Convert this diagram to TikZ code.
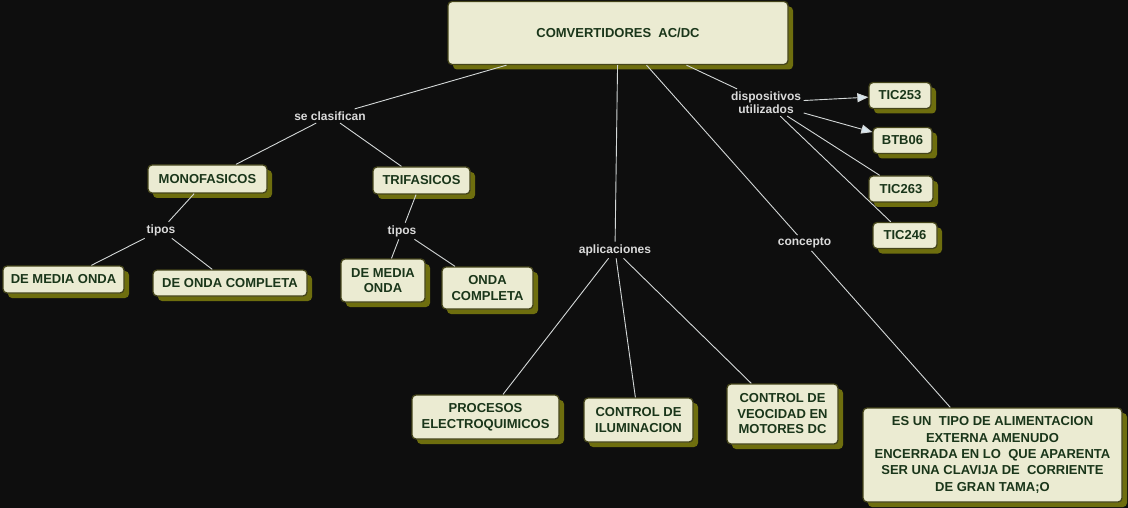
\documentclass[tikz,border=0pt]{standalone}
\usepackage{fontspec}
\setmainfont{Liberation Sans}
\usetikzlibrary{shadows,arrows.meta}
\definecolor{bgcol}{HTML}{0E0E0E}
\definecolor{boxfill}{HTML}{EBEBD2}
\definecolor{boxline}{HTML}{44441A}
\definecolor{shadowcol}{HTML}{6E6E0E}
\definecolor{boxtext}{HTML}{1A361A}
\definecolor{labtext}{HTML}{DADADA}
\definecolor{linkcol}{HTML}{D4D8D8}
\definecolor{headcol}{HTML}{D8E6EE}
\tikzset{
  box/.style={draw=boxline, line width=1.3pt, fill=boxfill, rounded corners=4pt,
    text=boxtext, font=\fontsize{13}{15.5}\selectfont\bfseries, align=center,
    inner sep=2pt,
    drop shadow={shadow xshift=5pt, shadow yshift=-5pt, fill=shadowcol, opacity=1}},
  lab/.style={text=labtext, font=\fontsize{12}{13}\selectfont\bfseries, align=center, inner sep=2.5pt},
  link/.style={draw=linkcol, line width=0.9pt},
  arrowlink/.style={link, -{Triangle[length=11pt,width=9pt,fill=headcol]}}
}
\begin{document}
\begin{tikzpicture}[x=1pt,y=-1pt]
\fill[bgcol] (0,0) rectangle (1128,508);
\useasboundingbox (0,0) rectangle (1128,508);
% boxes
\node[box, minimum width=340pt, minimum height=63pt] (top) at (618,33) {COMVERTIDORES\ \ AC/DC};
\node[box, minimum width=119pt, minimum height=28pt] (mono) at (207.5,179) {MONOFASICOS};
\node[box, minimum width=97pt, minimum height=27pt] (tri) at (421.5,180.5) {TRIFASICOS};
\node[box, minimum width=121pt, minimum height=27pt] (dmo1) at (63.5,279.5) {DE MEDIA ONDA};
\node[box, minimum width=154pt, minimum height=26pt] (doc) at (230,283) {DE ONDA COMPLETA};
\node[box, minimum width=84pt, minimum height=43pt] (dmo2) at (383,280.5) {DE MEDIA\\ONDA};
\node[box, minimum width=91pt, minimum height=42pt] (oc) at (487.5,288) {ONDA\\COMPLETA};
\node[box, minimum width=147pt, minimum height=44pt] (proc) at (485.5,417) {PROCESOS\\ELECTROQUIMICOS};
\node[box, minimum width=109pt, minimum height=44pt] (ilum) at (638.5,420) {CONTROL DE\\ILUMINACION};
\node[box, minimum width=111pt, minimum height=60pt] (veo) at (782.5,414) {CONTROL DE\\VEOCIDAD EN\\MOTORES DC};
\node[box, minimum width=259pt, minimum height=94pt, font=\fontsize{13}{16.3}\selectfont\bfseries] (esun) at (992.5,455)
  {ES UN\ \ TIPO DE ALIMENTACION\\EXTERNA AMENUDO\\ENCERRADA EN LO\ \ QUE APARENTA\\SER UNA CLAVIJA DE\ \ CORRIENTE\\DE GRAN TAMA;O};
\node[box, minimum width=62pt, minimum height=26pt] (tic253) at (900,95.5) {TIC253};
\node[box, minimum width=59pt, minimum height=26pt] (btb06) at (902.5,140.5) {BTB06};
\node[box, minimum width=64pt, minimum height=26pt] (tic263) at (901,189) {TIC263};
\node[box, minimum width=64pt, minimum height=26pt] (tic246) at (905,235.5) {TIC246};
% labels
\node[lab] (secl) at (330,116) {se clasifican};
\node[lab] (tipos1) at (161,230) {tipos};
\node[lab] (tipos2) at (402,231) {tipos};
\node[lab] (apl) at (615,250) {aplicaciones};
\node[lab] (conc) at (804.5,243) {concepto};
\node[lab] (disp) at (766,102.5) {dispositivos\\utilizados};
% links
\draw[link] (top) -- (secl);
\draw[link] (secl) -- (mono);
\draw[link] (secl) -- (tri);
\draw[link] (mono) -- (tipos1);
\draw[link] (tipos1) -- (dmo1);
\draw[link] (tipos1) -- (doc);
\draw[link] (tri) -- (tipos2);
\draw[link] (tipos2) -- (dmo2);
\draw[link] (tipos2) -- (oc);
\draw[link] (top) -- (apl);
\draw[link] (apl) -- (proc);
\draw[link] (apl) -- (ilum);
\draw[link] (apl) -- (veo);
\draw[link] (top) -- (conc);
\draw[link] (conc) -- (esun);
\draw[link] (top) -- (disp);
\draw[arrowlink] (disp) -- (tic253);
\draw[arrowlink] (disp) -- (btb06);
\draw[link] (disp) -- (tic263);
\draw[link] (disp) -- (tic246);
\end{tikzpicture}
\end{document}
